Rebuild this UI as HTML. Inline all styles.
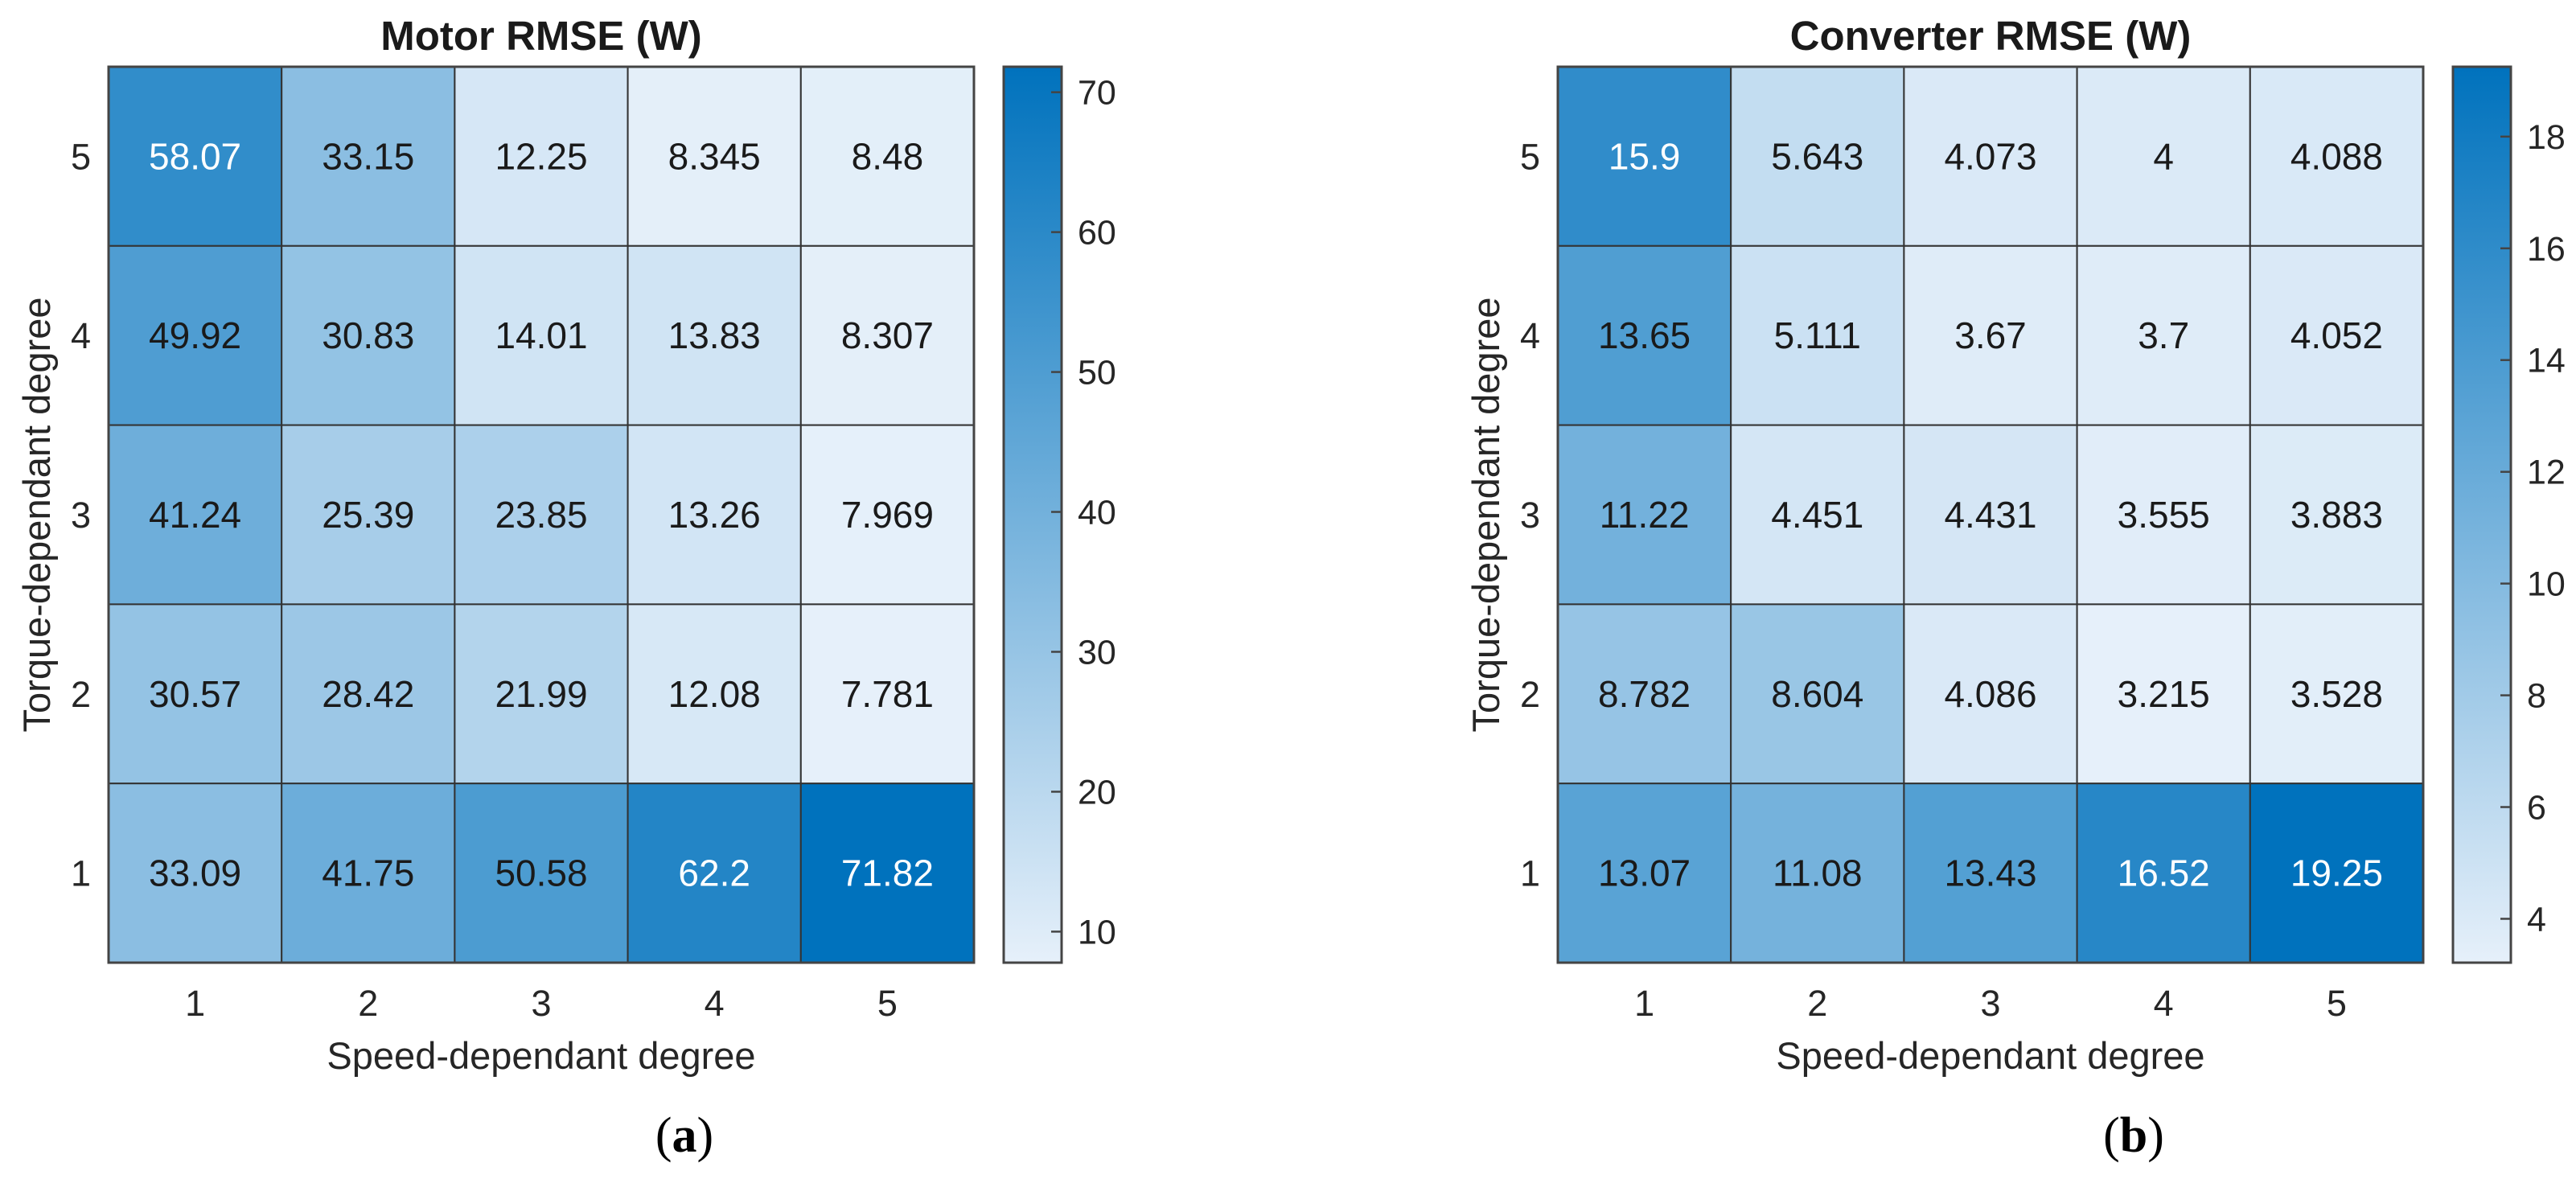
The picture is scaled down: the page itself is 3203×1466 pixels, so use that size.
<!DOCTYPE html>
<html><head><meta charset="utf-8">
<style>
html,body{margin:0;padding:0;background:#fff;}
svg{display:block;font-family:"Liberation Sans",Arial,sans-serif;}
</style></head>
<body>
<svg id="fig" width="3203" height="1466" viewBox="0 0 3203 1466" xmlns="http://www.w3.org/2000/svg"></svg>
<script>
const xCategories = ["1","2","3","4","5"];
const yCategories = ["5","4","3","2","1"];
const motorValues = [
  [58.07, 33.15, 12.25, 8.345, 8.48],
  [49.92, 30.83, 14.01, 13.83, 8.307],
  [41.24, 25.39, 23.85, 13.26, 7.969],
  [30.57, 28.42, 21.99, 12.08, 7.781],
  [33.09, 41.75, 50.58, 62.2, 71.82]
];
const converterValues = [
  [15.9, 5.643, 4.073, 4, 4.088],
  [13.65, 5.111, 3.67, 3.7, 4.052],
  [11.22, 4.451, 4.431, 3.555, 3.883],
  [8.782, 8.604, 4.086, 3.215, 3.528],
  [13.07, 11.08, 13.43, 16.52, 19.25]
];
const motorTicks = [10, 20, 30, 40, 50, 60, 70];
const converterTicks = [4, 6, 8, 10, 12, 14, 16, 18];
const motorLabels = ["58.07","33.15","12.25","8.345","8.48","49.92","30.83","14.01","13.83","8.307","41.24","25.39","23.85","13.26","7.969","30.57","28.42","21.99","12.08","7.781","33.09","41.75","50.58","62.2","71.82"];
const converterLabels = ["15.9","5.643","4.073","4","4.088","13.65","5.111","3.67","3.7","4.052","11.22","4.451","4.431","3.555","3.883","8.782","8.604","4.086","3.215","3.528","13.07","11.08","13.43","16.52","19.25"];

const NS = "http://www.w3.org/2000/svg";
const svg = document.getElementById('fig');
function mk(tag, attrs, parent){
  const e = document.createElementNS(NS, tag);
  for (const k in attrs) e.setAttribute(k, attrs[k]);
  (parent||svg).appendChild(e);
  return e;
}
const lo = [230,240,250], hi = [0,114,189];
function col(t){
  t = Math.max(0, Math.min(1, t));
  return 'rgb(' + lo.map((c,i)=>Math.round(c + (hi[i]-c)*t)).join(',') + ')';
}

function panel(ox, title, values, labels, ticks, letter, key){
  const L = 135 + ox, T = 83, W = 1076, H = 1114, B = T + H;
  const nC = xCategories.length, nR = yCategories.length;
  const cw = W / nC, ch = H / nR;
  const flat = values.flat();
  const vmin = Math.min(...flat), vmax = Math.max(...flat);
  const xPos = i => L + (i + 0.5) * cw;
  const yPos = j => T + (j + 0.5) * ch;
  const tOf = v => (v - vmin) / (vmax - vmin);

  const g = mk('g', {});
  
  

  const tt = mk('text', {x: L + W/2, y: 62, 'text-anchor':'middle', 'font-size':51, 'font-weight':'bold', fill:'#1a1a1a'}, g);
  tt.textContent = title;
  
  

  for (let j = 0; j < nR; j++){
    for (let i = 0; i < nC; i++){
      const v = values[j][i];
      const t = tOf(v);
      const r = mk('rect', {x: L + i*cw, y: T + j*ch, width: cw, height: ch, fill: col(t), stroke:'#333', 'stroke-width':2}, g);
      
      
      const tx = mk('text', {x: xPos(i), y: yPos(j) + 16, 'text-anchor':'middle', 'font-size':46, fill: t > 0.72 ? '#ffffff' : '#1a1a1a'}, g);
      tx.textContent = labels[j*nC + i];
      
      
    }
  }
  const bd = mk('rect', {x: L, y: T, width: W, height: H, fill:'none', stroke:'#444', 'stroke-width':3}, g);
  
  

  xCategories.forEach((c, i) => {
    const e = mk('text', {x: xPos(i), y: 1263, 'text-anchor':'middle', 'font-size':45, fill:'#262626'}, g);
    e.textContent = c;
    
    
  });
  yCategories.forEach((c, j) => {
    const e = mk('text', {x: L - 22, y: yPos(j) + 16, 'text-anchor':'end', 'font-size':45, fill:'#262626'}, g);
    e.textContent = c;
    
    
  });
  const xl = mk('text', {x: L + W/2, y: 1329, 'text-anchor':'middle', 'font-size':47, fill:'#262626'}, g);
  xl.textContent = 'Speed-dependant degree';
  
  
  const yl = mk('text', {x: 0, y: 0, 'text-anchor':'middle', 'font-size':47, fill:'#262626', transform:'translate(' + (ox + 62) + ',' + (T + H/2) + ') rotate(-90)'}, g);
  yl.textContent = 'Torque-dependant degree';
  
  

  // colorbar
  const cx = 1248 + ox, cwid = 72;
  const gid = 'grad-' + key;
  const defs = mk('defs', {}, g);
  const lg = mk('linearGradient', {id: gid, x1:0, y1:1, x2:0, y2:0}, defs);
  mk('stop', {offset:0, 'stop-color': col(0)}, lg);
  mk('stop', {offset:1, 'stop-color': col(1)}, lg);
  const cb = mk('rect', {x: cx, y: T, width: cwid, height: H, fill: 'url(#' + gid + ')', stroke:'#444', 'stroke-width':3}, g);
  
  
  const cy = v => B - (v - vmin) / (vmax - vmin) * H;
  ticks.forEach(v => {
    const y = cy(v);
    const tk = mk('line', {x1: cx + cwid - 13, x2: cx + cwid, y1: y, y2: y, stroke:'#444', 'stroke-width':2.5}, g);
    
    
    const tl = mk('text', {x: cx + cwid + 20, y: y + 15, 'font-size':43, fill:'#262626'}, g);
    tl.textContent = String(v);
    
    
  });

  const lt = mk('text', {x: L + W/2 + 178, y: 1432, 'text-anchor':'middle', 'font-size':62, 'font-family':'"Liberation Serif",serif', fill:'#000'}, g);
  lt.innerHTML = '(<tspan font-weight="bold">' + letter + '</tspan>)';
  
  
}
panel(0, 'Motor RMSE (W)', motorValues, motorLabels, motorTicks, 'a', 'motor');
panel(1802, 'Converter RMSE (W)', converterValues, converterLabels, converterTicks, 'b', 'converter');
</script>
</body></html>
